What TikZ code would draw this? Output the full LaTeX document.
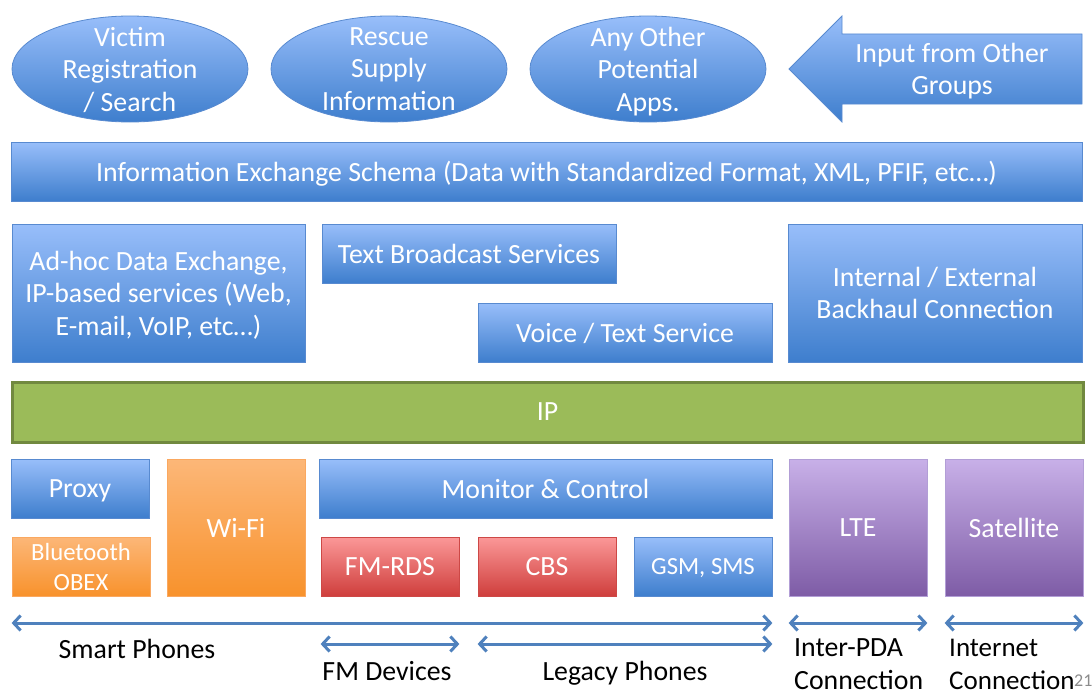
\documentclass[tikz,border=0pt]{standalone}
\usepackage{fontspec}
\setmainfont{Carlito}
\usepackage{tikz}
\usetikzlibrary{shapes,arrows,arrows.meta}
\usepackage{xcolor}

\definecolor{blueTop}{RGB}{152,190,250}
\definecolor{blueBot}{RGB}{62,126,205}
\definecolor{blueLine}{RGB}{88,138,208}
\definecolor{orangeTop}{RGB}{252,183,120}
\definecolor{orangeBot}{RGB}{248,146,44}
\definecolor{orangeLine}{RGB}{250,168,96}
\definecolor{redTop}{RGB}{251,152,152}
\definecolor{redBot}{RGB}{207,62,60}
\definecolor{redLine}{RGB}{205,72,70}
\definecolor{purpleTop}{RGB}{200,176,232}
\definecolor{purpleBot}{RGB}{126,92,166}
\definecolor{purpleLine}{RGB}{178,158,214}
\definecolor{ipFill}{RGB}{155,187,89}
\definecolor{ipLine}{RGB}{113,137,63}
\definecolor{spanLine}{RGB}{79,129,189}

\newcommand{\slidefont}{\fontsize{27.8}{32.5}\selectfont}
\newcommand{\smallslidefont}{\fontsize{24.7}{30}\selectfont}

\tikzset{
	box/.style={draw=blueLine, line width=0.8pt, top color=blueTop, bottom color=blueBot, text=white, align=center, inner sep=0pt, text depth=0pt, font=\slidefont},
	orangebox/.style={box, draw=orangeLine, top color=orangeTop, bottom color=orangeBot},
	redbox/.style={box, draw=redLine, top color=redTop, bottom color=redBot},
	purplebox/.style={box, draw=purpleLine, top color=purpleTop, bottom color=purpleBot},
	bubble/.style={ellipse, draw=blueLine, line width=0.8pt, top color=blueTop, bottom color=blueBot, minimum width=236pt, minimum height=106pt, inner sep=0pt},
	lbl/.style={text=white, align=center, inner sep=0pt, text depth=0pt, font=\slidefont},
	ipbar/.style={draw=ipLine, line width=3pt, fill=ipFill, text=white, inner sep=0pt, text depth=0pt, font=\slidefont},
	span/.style={draw=spanLine, line width=3pt, {Straight Barb[length=7pt,width=15pt]}-{Straight Barb[length=7pt,width=15pt]}},
	caption/.style={text=black, inner sep=0pt, font=\slidefont}
}

\begin{document}
\begin{tikzpicture}[x=1pt,y=-1pt]
	\useasboundingbox (0,0) rectangle (1092,693);
	% applications
	\node[bubble] (victim) at (130,69) {};
	\node[lbl] at (victim) {Victim\\Registration\\/ Search};
	\node[bubble] (rescue) at (389,69) {};
	\node[lbl] at (rescue) {Rescue\\Supply\\Information};
	\node[bubble] (otherapps) at (648,69) {};
	\node[lbl] at (otherapps) {Any Other\\Potential\\Apps.};
	% input arrow
	\shade[draw=blueLine, line width=0.8pt, top color=blueTop, bottom color=blueBot]
		(789,69) -- (842,16) -- (842,34) -- (1082,34) -- (1082,104) -- (842,104) -- (842,122) -- cycle;
	\node[lbl] (input) at (952,69) {Input from Other\\Groups};
	% schema
	\node[box, minimum width=1071pt, minimum height=59pt] (schema) at (546.5,171.5) {Information Exchange Schema (Data with Standardized Format, XML, PFIF, etc…)};
	% services
	\node[box, minimum width=293pt, minimum height=138pt] (adhoc) at (158.5,293) {Ad-hoc Data Exchange,\\IP-based services (Web,\\E-mail, VoIP, etc…)};
	\node[box, minimum width=294pt, minimum height=59pt] (textbc) at (469,253.5) {Text Broadcast Services};
	\node[box, minimum width=294pt, minimum height=59pt] (voice) at (625,332.5) {Voice / Text Service};
	\node[box, minimum width=294pt, minimum height=138pt] (backhaul) at (935,293) {Internal / External\\Backhaul Connection};
	% ip layer
	\node[ipbar, minimum width=1071pt, minimum height=60pt] (ip) at (547.5,412) {IP};
	% bearers
	\node[box, minimum width=138pt, minimum height=59pt] (proxy) at (80,488.5) {Proxy};
	\node[orangebox, minimum width=138pt, minimum height=59pt, font=\smallslidefont] (bluetooth) at (81,566.5) {Bluetooth\\OBEX};
	\node[orangebox, minimum width=138pt, minimum height=137pt] (wifi) at (236,527.5) {Wi-Fi};
	\node[box, minimum width=453pt, minimum height=59pt] (monitor) at (545.5,488.5) {Monitor \& Control};
	\node[redbox, minimum width=138pt, minimum height=59pt] (fmrds) at (390,566.5) {FM-RDS};
	\node[redbox, minimum width=138pt, minimum height=59pt] (cbs) at (547,566.5) {CBS};
	\node[box, minimum width=138pt, minimum height=59pt, font=\smallslidefont] (gsm) at (703,566.5) {GSM, SMS};
	\node[purplebox, minimum width=138pt, minimum height=137pt] (lte) at (858,527.5) {LTE};
	\node[purplebox, minimum width=138pt, minimum height=137pt] (sat) at (1014,527.5) {Satellite};
	% device spans
	\coordinate (row1) at (0,623);
	\coordinate (row2) at (0,644);
	\draw[span] (bluetooth.west |- row1) -- (gsm.east |- row1);
	\draw[span] (fmrds.west |- row2) -- (fmrds.east |- row2);
	\draw[span] (cbs.west |- row2) -- (gsm.east |- row2);
	\draw[span] (lte.west |- row1) -- (lte.east |- row1);
	\draw[span] (sat.west |- row1) -- (sat.east |- row1);
	\node[caption, anchor=base] (smart) at (137,658) {Smart Phones};
	\node[caption, anchor=base] (fmdev) at (387,680) {FM Devices};
	\node[caption, anchor=base] (legacy) at (625,680) {Legacy Phones};
	\node[caption, anchor=base west, align=left, text depth=0pt] (interpda) at (794,689) {Inter-PDA\\Connection};
	\node[caption, anchor=base west, align=left, text depth=0pt, font=\fontsize{27}{32.5}\selectfont] (internet) at (949,689) {Internet\\Connection};
	\node[anchor=base west, inner sep=0pt, text=black!45, font=\fontsize{18}{21}\selectfont] (pagenum) at (1074,686) {21};
\end{tikzpicture}
\end{document}
